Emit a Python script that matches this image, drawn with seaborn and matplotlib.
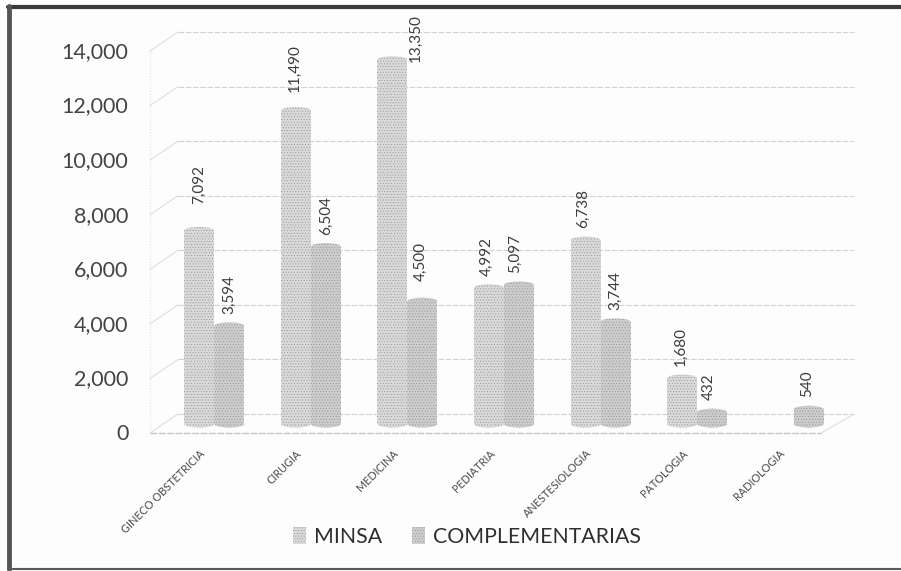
import matplotlib
matplotlib.use("Agg")
import matplotlib.pyplot as plt
import matplotlib.transforms as mtransforms
from matplotlib.patches import Ellipse
from matplotlib.ticker import StrMethodFormatter
import pandas as pd
import seaborn as sns

# values
areas = ["GINECO OBSTETRICIA", "CIRUGIA", "MEDICINA", "PEDIATRIA",
         "ANESTESIOLOGIA", "PATOLOGIA", "RADIOLOGIA"]
minsa = [7092, 11490, 13350, 4992, 6738, 1680, None]
complementarias = [3594, 6504, 4500, 5097, 3744, 432, 540]
y_ticks = [0, 2000, 4000, 6000, 8000, 10000, 12000, 14000]

df = pd.DataFrame({"area": areas, "MINSA": minsa, "COMPLEMENTARIAS": complementarias})
df = df.melt(id_vars="area", var_name="serie", value_name="valor")

sns.set_theme(style="white")
plt.rcParams["font.family"] = ["Lato", "DejaVu Sans"]
plt.rcParams["hatch.linewidth"] = 0.35

W, H = 901, 571
paper = "#fdfdfd"
fig = plt.figure(figsize=(W / 100, H / 100), dpi=100, facecolor=paper)
ax = fig.add_axes([166 / W, (H - 424) / H, 676 / W, 382 / H])
ax.set_facecolor("none")

colors = {"MINSA": "#dadada", "COMPLEMENTARIAS": "#cdcdcd"}
hatch_color = "#929292"
sns.barplot(data=df, x="area", y="valor", hue="serie", palette=colors,
            width=0.62, gap=0, saturation=1, ax=ax, zorder=3)

ax.set_xlim(-0.5, 6.5)
ax.set_ylim(0, 14000)
ax.set_xlabel("")
ax.set_ylabel("")
sns.despine(ax=ax, left=True, bottom=True)


def shift(dx, dy):
    return mtransforms.ScaledTranslation(dx / 100, dy / 100, fig.dpi_scale_trans)


def pixel_line(p0, p1, **kw):
    fig.add_artist(plt.Line2D([p0[0] / W, p1[0] / W], [p0[1] / H, p1[1] / H], **kw))


# back wall of the fake 3d box
back = ax.transData + shift(12, 10)
front = ax.transData + shift(-16, -9)
grid_color = "#d2d2d2"
for v in y_ticks:
    ax.plot([-0.5, 6.5], [v, v], color=grid_color, lw=0.8, ls=(0, (5, 1.5)),
            transform=back, zorder=1, clip_on=False)
    pixel_line(front.transform((-0.5, v)), back.transform((-0.5, v)), color="#dedede", lw=0.8, zorder=1)
ax.plot([-0.5, -0.5], [0, 14000], color="#e2e2e2", lw=0.8, ls=":", transform=front, zorder=1, clip_on=False)
ax.plot([-0.5, 6.45], [0, 0], color="#c6c6c6", lw=1.0, ls=(0, (5, 1)), transform=front, zorder=1, clip_on=False)
pixel_line(front.transform((6.45, 0)), back.transform((6.5, 0)), color="#dedede", lw=0.8, zorder=1)

# rounded caps so the bars read as cylinders, labels over them
cap_h = 260
label_shift = {
    (0, "MINSA"): (0, 14), (1, "MINSA"): (-1, 6), (2, "MINSA"): (23, -14),
    (3, "MINSA"): (-2, 0), (4, "MINSA"): (-3, 0), (5, "MINSA"): (-2, 0),
    (2, "COMPLEMENTARIAS"): (-2, 8), (3, "COMPLEMENTARIAS"): (-4, 0),
    (5, "COMPLEMENTARIAS"): (-3, 0), (6, "COMPLEMENTARIAS"): (-2, 0),
}
for container, name in zip(ax.containers, ["MINSA", "COMPLEMENTARIAS"]):
    for i, bar in enumerate(container):
        val = bar.get_height()
        if pd.isna(val) or val == 0:
            continue
        bar.set_hatch("......")
        bar.set_edgecolor(hatch_color)
        bar.set_linewidth(0)
        cx = bar.get_x() + bar.get_width() / 2
        for yy in (0, val):
            ax.add_patch(Ellipse((cx, yy), bar.get_width(), cap_h, facecolor=colors[name],
                                 edgecolor=hatch_color, hatch="......", lw=0, zorder=3, clip_on=False))
        dx, dy = label_shift.get((i, name), (0, 0))
        ax.annotate(f"{val:,.0f}", (cx, val), xytext=(dx * 0.72, (12 + dy) * 0.72), textcoords="offset points",
                    rotation=90, ha="center", va="bottom", fontsize=11, color="#3c3c3c",
                    annotation_clip=False, zorder=5)

ax.set_yticks(y_ticks)
ax.yaxis.set_major_formatter(StrMethodFormatter("{x:,.0f}"))
ax.tick_params(axis="y", length=0, pad=27, labelsize=15.5, labelcolor="#444444")
for lab in ax.get_yticklabels():
    lab.set_transform(lab.get_transform() + shift(0, -8))

ax.set_xticks(range(len(areas)))
ax.set_xticklabels(areas, rotation=45, ha="right", rotation_mode="anchor", fontsize=7.8, color="#4a4a4a")
ax.tick_params(axis="x", length=0, pad=17)
for lab in ax.get_xticklabels():
    lab.set_transform(lab.get_transform() + shift(-15, 0))

handles, labels = ax.get_legend_handles_labels()
for h in handles:
    h.set_hatch("......")
    h.set_edgecolor(hatch_color)
    h.set_linewidth(0)
ax.legend(handles, labels, loc="center", bbox_to_anchor=(467 / W, (H - 537) / H),
          bbox_transform=fig.transFigure, ncol=2, frameon=False, fontsize=15.3,
          labelcolor="#2e2e2e", handlelength=0.6, handleheight=0.8, handletextpad=0.4, columnspacing=1.4)

# dark scanned frame, open on the right like the scan
pixel_line((8, H - 7), (W, H - 7), color="#3a3a3a", lw=3)
pixel_line((9, H - 6), (9, 2), color="#555555", lw=3.5)
pixel_line((8, 2), (W, 2), color="#5a5a5a", lw=1.5)

fig.savefig("out.png", dpi=100, facecolor=paper)
